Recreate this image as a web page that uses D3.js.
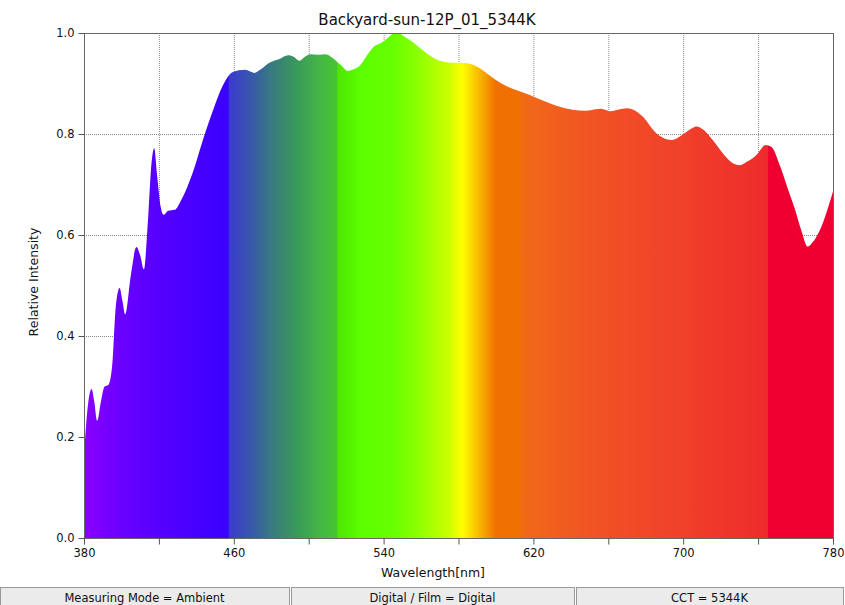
<!DOCTYPE html>
<html lang="en">
<head>
<meta charset="utf-8">
<title>Backyard-sun-12P_01_5344K</title>
<script src="https://cdn.jsdelivr.net/npm/d3@7"></script>
<style>
  body { margin: 0; background: #fff; }
  text { font-family: "DejaVu Sans", sans-serif; fill: #111; }
  .grid line { stroke: #888; stroke-dasharray: 1,1; stroke-width: 1; }
  .axis path, .axis line { stroke: #555; }
  .axis text { font-size: 11.5px; fill: #111; }
</style>
</head>
<body>
<div id="chart"></div>
<script>
// spectrum
var wavelengths = [380,382,384,385.5,387,389,391,393,395,397,399,400.5,402,405,408,410,412,414,416,417.5,419,421,422.5,425,428.5,432,438,444,449,454,459.5,466,471,474,479,484,489,492,495,498,501,505,509,513,517,521,524,527,531,534,540,545,548,551,554,558,563,567,572,577,582,586,590,597,603,610,616,622,628,635,641,648,653,656,659,661,665,670,674,679,684,688,694,699,704,707,711,716,722,727,730,734,739,744,747,752,756,759.5,763,766.5,769,773.5,777,780];
var intensity = [0.165,0.26,0.295,0.27,0.232,0.27,0.300,0.303,0.34,0.46,0.495,0.47,0.443,0.52,0.576,0.56,0.532,0.62,0.74,0.772,0.72,0.655,0.640,0.648,0.650,0.670,0.723,0.794,0.848,0.895,0.923,0.927,0.921,0.927,0.941,0.948,0.956,0.953,0.945,0.953,0.958,0.957,0.958,0.950,0.937,0.925,0.928,0.934,0.955,0.970,0.983,0.998,1.0,0.993,0.986,0.975,0.960,0.950,0.943,0.941,0.941,0.939,0.933,0.915,0.900,0.888,0.880,0.871,0.862,0.853,0.848,0.846,0.849,0.850,0.847,0.845,0.848,0.851,0.847,0.832,0.808,0.795,0.788,0.797,0.810,0.815,0.808,0.787,0.758,0.741,0.738,0.745,0.758,0.778,0.775,0.734,0.69,0.653,0.61,0.577,0.585,0.614,0.650,0.686];

// fill colours along wavelength (repeated nm = hard edge)
var stopNm =    [380,      400,      420,      457,      457.5,    470,      480,      494,      505,      515,      515.5,    528,      545,      558,      575,      582,      586,      594,      600,      613,      613.5,    650,      700,      745,      745.5,    780];
var stopColor = ["#8a00ff","#6a00ff","#5500ff","#3a00ff","#3a3ad2","#385aa8","#387a80","#3a9a58","#44b448","#48c430","#4ee400","#5cff00","#66ff00","#8cff00","#ccff00","#ffff00","#fbe000","#f6a000","#f07000","#f07000","#f06a18","#f15424","#f0402a","#ee2c2c","#f00030","#f00030"];

var xTicks = [380,460,540,620,700,780];
var xGrid = [420,460,500,540,580,620,660,700,740];
var yTicks = [0,0.2,0.4,0.6,0.8,1.0];

var footer = ["Measuring Mode = Ambient","Digital / Film = Digital","CCT = 5344K"];

var width = 845, height = 605;
var margin = {top: 33, right: 12, bottom: 67, left: 84};

var svg = d3.select("#chart").append("svg")
    .attr("width", width)
    .attr("height", height);

var x = d3.scaleLinear().domain([380,780]).range([margin.left, width - margin.right]);
var y = d3.scaleLinear().domain([0,1]).range([height - margin.bottom, margin.top]);

var data = wavelengths.map(function(w, i) { return {w: w, v: intensity[i]}; });

// gradient
var defs = svg.append("defs");
var grad = defs.append("linearGradient")
    .attr("id", "spec")
    .attr("gradientUnits", "userSpaceOnUse")
    .attr("x1", x(380)).attr("x2", x(780))
    .attr("y1", 0).attr("y2", 0);
grad.selectAll("stop")
    .data(stopNm)
  .enter().append("stop")
    .attr("offset", function(d) { return (d - 380) / 400; })
    .attr("stop-color", function(d, i) { return stopColor[i]; });

defs.append("clipPath").attr("id", "plot")
  .append("rect")
    .attr("x", x(380)).attr("y", y(1))
    .attr("width", x(780) - x(380)).attr("height", y(0) - y(1));

// grid
var grid = svg.append("g").attr("class", "grid");
grid.selectAll("line.v")
    .data(xGrid)
  .enter().append("line")
    .attr("x1", function(d) { return x(d) + 0.5; })
    .attr("x2", function(d) { return x(d) + 0.5; })
    .attr("y1", y(1)).attr("y2", y(0));
grid.selectAll("line.h")
    .data(yTicks.slice(1, 5))
  .enter().append("line")
    .attr("x1", x(380)).attr("x2", x(780))
    .attr("y1", function(d) { return y(d) + 0.5; })
    .attr("y2", function(d) { return y(d) + 0.5; });

// spectrum area
var area = d3.area()
    .x(function(d) { return x(d.w); })
    .y0(y(0))
    .y1(function(d) { return y(d.v); })
    .curve(d3.curveMonotoneX);

svg.append("path")
    .datum(data)
    .attr("clip-path", "url(#plot)")
    .attr("fill", "url(#spec)")
    .attr("d", area);

// frame
svg.append("rect")
    .attr("x", x(380) + 0.5).attr("y", y(1) + 0.5)
    .attr("width", x(780) - x(380)).attr("height", y(0) - y(1))
    .attr("fill", "none")
    .attr("stroke", "#666");

// axes
svg.append("g")
    .attr("class", "axis")
    .attr("transform", "translate(0," + (y(0) + 0.5) + ")")
    .call(d3.axisBottom(x).tickValues([380].concat(xGrid, [780])).tickSize(6).tickPadding(4)
      .tickFormat(function(d) { return xTicks.indexOf(d) >= 0 ? d : ""; }))
    .call(function(g) { g.select(".domain").remove(); });

svg.append("g")
    .attr("class", "axis")
    .attr("transform", "translate(" + (x(380) + 0.5) + ",0)")
    .call(d3.axisLeft(y).tickValues(yTicks).tickSize(6).tickPadding(4).tickFormat(d3.format(".1f")))
    .call(function(g) { g.select(".domain").remove(); });

// titles
svg.append("text")
    .attr("x", 427).attr("y", 25)
    .attr("text-anchor", "middle")
    .style("font-size", "15px")
    .text("Backyard-sun-12P_01_5344K");

svg.append("text")
    .attr("x", 433).attr("y", 577)
    .attr("text-anchor", "middle")
    .style("font-size", "12.5px")
    .text("Wavelength[nm]");

svg.append("text")
    .attr("transform", "translate(38," + 282 + ") rotate(-90)")
    .attr("text-anchor", "middle")
    .style("font-size", "12.5px")
    .text("Relative Intensity");

// footer boxes
var boxX = [0, 291, 576, 845];
var fg = svg.append("g");
fg.selectAll("rect")
    .data(footer)
  .enter().append("rect")
    .attr("x", function(d, i) { return boxX[i] + 0.5; })
    .attr("y", 587.5)
    .attr("width", function(d, i) { return boxX[i + 1] - boxX[i] - 2; })
    .attr("height", 20)
    .attr("fill", "#ebebeb")
    .attr("stroke", "#9a9a9a");
fg.selectAll("text")
    .data(footer)
  .enter().append("text")
    .attr("x", function(d, i) { return (boxX[i] + boxX[i + 1] - 2) / 2; })
    .attr("y", 602)
    .attr("text-anchor", "middle")
    .style("font-size", "11.5px")
    .text(function(d) { return d; });
</script>
</body>
</html>
